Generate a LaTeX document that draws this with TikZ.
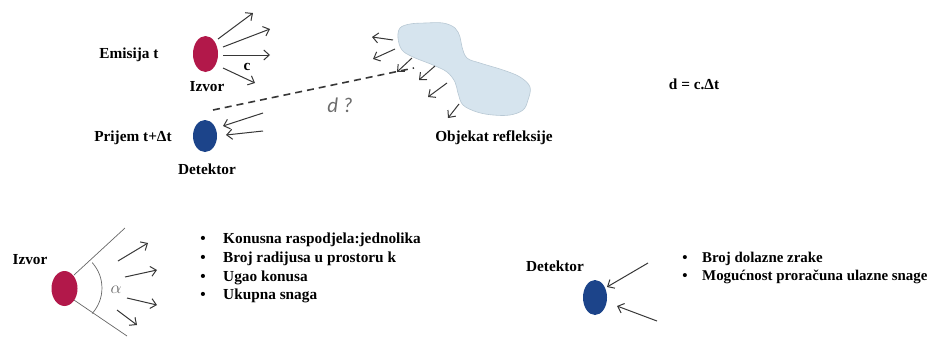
\documentclass[tikz,border=0pt]{standalone}
\usepackage{fontspec}
\setmainfont{Liberation Serif}
\newfontfamily\dfont{Carlito}
\usetikzlibrary{arrows.meta,shapes.geometric}
\definecolor{srcred}{RGB}{178,24,74}
\definecolor{detblue}{RGB}{28,68,138}
\definecolor{blobfill}{RGB}{214,228,238}
\definecolor{blobline}{RGB}{184,200,212}
\definecolor{arrgray}{RGB}{55,55,55}
\tikzset{
  lbl/.style={inner sep=0pt, font=\fontsize{15.3}{18}\selectfont\bfseries, text height=10pt, text depth=3pt},
  lblr/.style={inner sep=0pt, font=\fontsize{14.9}{18}\selectfont\bfseries, text height=10pt, text depth=3pt},
  ray/.style={draw=arrgray, line width=1pt, -{Straight Barb[length=5.5pt,width=10pt]}},
  srcdot/.style={ellipse, fill=srcred, inner sep=0pt},
  detdot/.style={ellipse, fill=detblue, inner sep=0pt},
  cone/.style={draw=gray!80!black, line width=0.7pt},
}
\begin{document}
\begin{tikzpicture}[x=1pt,y=-1pt]
\useasboundingbox (0,0) rectangle (933,338);
% ---------- top part ----------
\node[srcdot, minimum width=25pt, minimum height=36pt] (izv) at (205.5,54) {};
\node[detdot, minimum width=24pt, minimum height=32pt] (det) at (205,136) {};
\node[lbl] (emis) at (129,55) {Emisija t};
\node[lbl] (izvl) at (207,88) {Izvor};
\node[lbl] (prij) at (133,138) {Prijem t+Δt};
\node[lbl] (detl) at (207,171) {Detektor};
\node[lbl] (cl) at (247,67) {c};
\node[inner sep=0pt, font=\dfont\itshape\fontsize{21}{22}\selectfont, text=gray!85!black] (dq) at (340,105) {d ?};
\node[lbl] (obj) at (494,138) {Objekat refleksije};
\node[lbl] (form) at (694,86) {d = c.Δt};
% blob
\path[fill=blobfill, draw=blobline, line width=0.6pt] plot[smooth cycle, tension=0.6] coordinates {
 (400,28) (410,24) (425,23) (443,23) (455,28) (460,37) (462,47) (467,58)
 (480,63) (503,70) (520,77) (530,87) (528,100) (523,110) (510,115) (493,115)
 (477,112) (463,105) (458,93) (455,82) (447,72) (433,65) (413,57) (402,50) (398,38)};
% source rays
\coordinate (s1a) at (218,39); \coordinate (s1b) at (253,13);
\coordinate (s2a) at (223,47); \coordinate (s2b) at (270,29);
\coordinate (s3a) at (223,55); \coordinate (s3b) at (270,55);
\coordinate (s4a) at (223,68); \coordinate (s4b) at (255,83);
\foreach \i in {1,...,4} {\draw[ray] (s\i a) -- (s\i b);}
% detector rays
\coordinate (d1a) at (263,113); \coordinate (d1b) at (223,126);
\coordinate (d2a) at (263,131); \coordinate (d2b) at (226,135);
\draw[ray] (d1a) -- (d1b);
\draw[ray] (d2a) -- (d2b);
% reflected rays
\coordinate (r1a) at (393,40); \coordinate (r1b) at (372,37);
\coordinate (r2a) at (395,49); \coordinate (r2b) at (373,59);
\coordinate (r3a) at (412,58); \coordinate (r3b) at (397,72);
\coordinate (r4a) at (435,66); \coordinate (r4b) at (419,80);
\coordinate (r5a) at (447,83); \coordinate (r5b) at (428,97);
\coordinate (r6a) at (459,104); \coordinate (r6b) at (448,118);
\foreach \i in {1,...,6} {\draw[ray] (r\i a) -- (r\i b);}
% dashed distance
\coordinate (dsa) at (213,110); \coordinate (dsb) at (414,68);
\draw[draw=arrgray, line width=1.6pt, dash pattern=on 7pt off 5pt] (dsa) -- (dsb);
% ---------- bottom left ----------
\node[srcdot, minimum width=26pt, minimum height=35pt] (izv2) at (64.5,288.5) {};
\node[lbl] (izv2l) at (30,261) {Izvor};
\coordinate (c1a) at (74,275); \coordinate (c1b) at (125,228);
\coordinate (c2a) at (74,300); \coordinate (c2b) at (127,336);
\draw[cone] (c1a) -- (c1b);
\draw[cone] (c2a) -- (c2b);
\coordinate (arcs) at (92.2,262.6);
\draw[cone] (arcs) arc[start angle=-42, end angle=42, radius=38];
\node[inner sep=0pt, text=gray!80!black, font=\fontsize{16}{17}\selectfont] (al) at (116,290) {$\alpha$};
\coordinate (b1a) at (118,261); \coordinate (b1b) at (148,243);
\coordinate (b2a) at (125,277); \coordinate (b2b) at (157,270);
\coordinate (b3a) at (127,298); \coordinate (b3b) at (157,305);
\coordinate (b4a) at (117,310); \coordinate (b4b) at (137,325);
\foreach \i in {1,...,4} {\draw[ray] (b\i a) -- (b\i b);}
\foreach \t/\y [count=\k] in {Konusna raspodjela:jednolika/240, Broj radijusa u prostoru k/259, Ugao konusa/277.5, Ukupna snaga/296} {
  \node[lbl] (bul\k) at (203,\y) {•};
  \node[lbl, anchor=west] (it\k) at (223,\y) {\t};
}
% ---------- bottom right ----------
\node[detdot, minimum width=24pt, minimum height=35pt] (det2) at (595,297.5) {};
\node[lbl] (det2l) at (555,268) {Detektor};
\coordinate (e1a) at (648,263); \coordinate (e1b) at (607,287);
\coordinate (e2a) at (657,321); \coordinate (e2b) at (617,306);
\draw[ray] (e1a) -- (e1b);
\draw[ray] (e2a) -- (e2b);
\node[lblr] (rb1) at (685,259) {•};
\node[lblr, anchor=west] (rt1) at (702,259) {Broj dolazne zrake};
\node[lblr] (rb2) at (685,277) {•};
\node[lblr, anchor=west] (rt2) at (702,277) {Mogućnost proračuna ulazne snage};
\end{tikzpicture}
\end{document}
